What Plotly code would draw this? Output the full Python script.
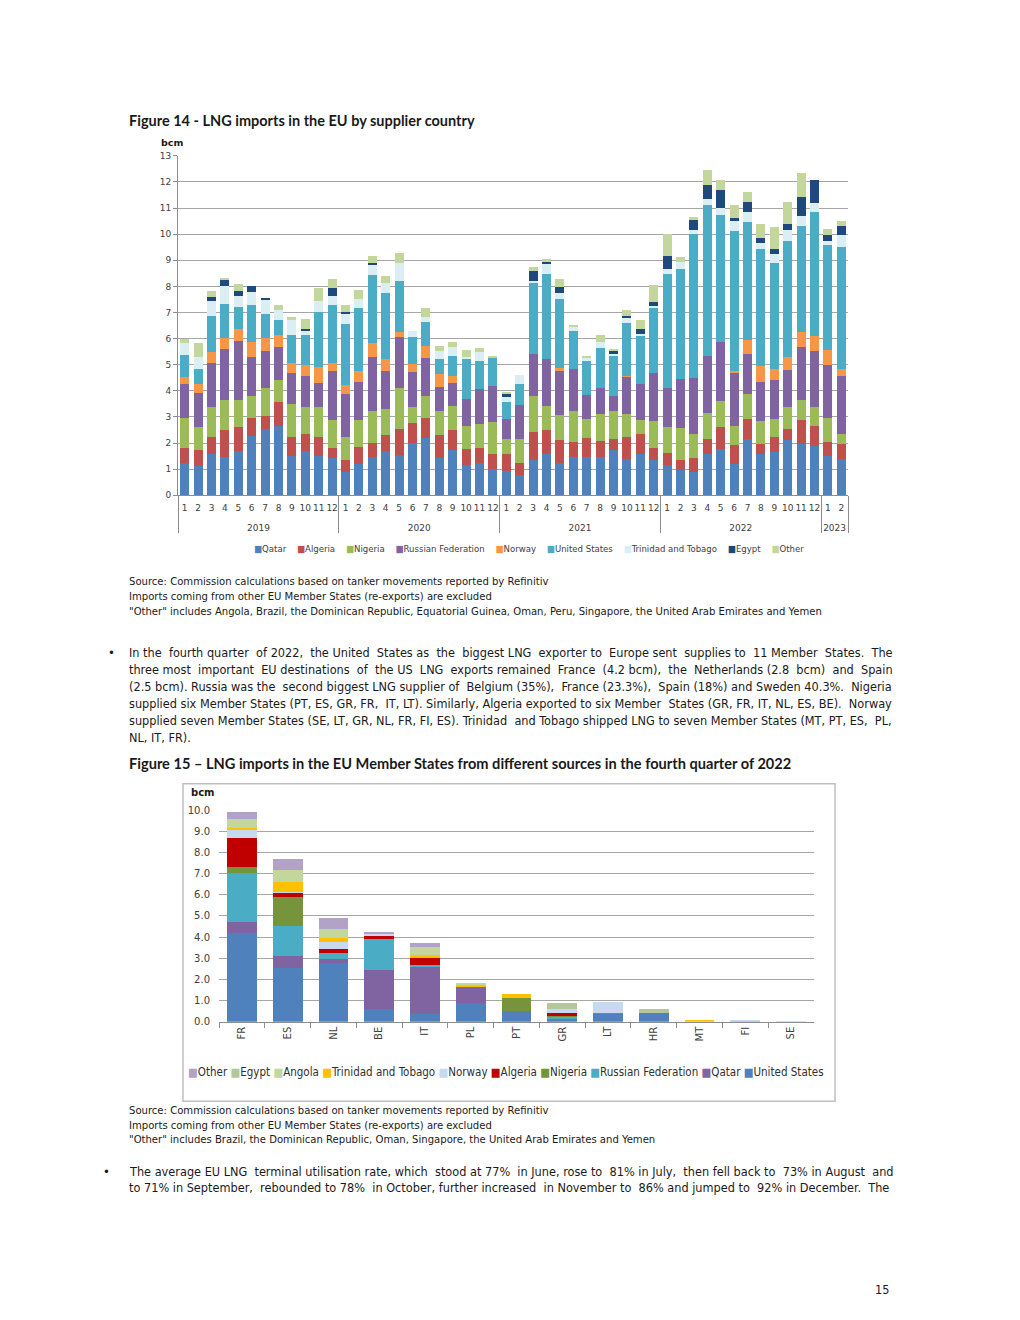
import plotly.graph_objects as go

W, H = 1020, 1320

# ---------------- Figure 14 data (bcm, monthly) ----------------
years = (["2019"] * 12 + ["2020"] * 12 + ["2021"] * 12 + ["2022"] * 12 + ["2023"] * 2)
months = (["1", "2", "3", "4", "5", "6", "7", "8", "9", "10", "11", "12"] * 4 + ["1", "2"])

qatar = [1.25, 1.12, 1.60, 1.45, 1.68, 2.27, 2.53, 2.67, 1.50, 1.68, 1.52, 1.42,
         0.90, 1.21, 1.47, 1.69, 1.56, 2.00, 2.20, 1.43, 1.73, 1.15, 1.25, 1.02,
         0.93, 0.77, 1.34, 1.57, 1.24, 1.45, 1.45, 1.45, 1.73, 1.38, 1.60, 1.34,
         1.15, 0.96, 0.90, 1.59, 1.78, 1.21, 2.17, 1.57, 1.66, 2.11, 1.96, 1.88,
         1.50, 1.38]
algeria = [0.57, 0.63, 0.65, 1.05, 0.92, 0.68, 0.50, 0.90, 0.75, 0.67, 0.71, 0.41,
           0.44, 0.64, 0.53, 0.61, 0.96, 0.77, 0.77, 0.87, 0.76, 0.64, 0.58, 0.58,
           0.64, 0.48, 1.09, 0.92, 0.87, 0.60, 0.76, 0.63, 0.42, 0.86, 0.74, 0.48,
           0.47, 0.38, 0.51, 0.55, 0.82, 0.73, 0.75, 0.39, 0.56, 0.42, 0.92, 0.79,
           0.55, 0.58]
nigeria = [1.15, 0.85, 1.13, 1.13, 1.05, 0.87, 1.07, 0.83, 1.23, 1.03, 1.14, 1.07,
           0.90, 1.03, 1.22, 1.00, 1.60, 0.62, 0.85, 0.92, 0.92, 0.87, 0.89, 1.21,
           0.57, 0.89, 1.38, 0.92, 0.96, 1.19, 0.72, 1.04, 1.07, 0.88, 0.54, 1.02,
           1.00, 1.24, 0.92, 1.01, 1.01, 0.73, 0.95, 0.88, 0.72, 0.86, 0.76, 0.72,
           0.90, 0.38]
russia = [1.28, 1.30, 1.67, 1.97, 2.27, 1.46, 1.42, 1.28, 1.22, 1.19, 0.93, 1.85,
          1.62, 1.44, 2.06, 1.46, 1.95, 1.32, 1.44, 0.92, 0.89, 1.04, 1.35, 1.37,
          0.79, 1.31, 1.60, 1.82, 1.69, 1.61, 0.91, 1.00, 0.59, 1.42, 1.38, 1.83,
          1.50, 1.88, 2.15, 2.18, 2.27, 2.01, 1.54, 1.48, 1.48, 1.42, 2.05, 2.13,
          2.05, 2.24]
norway = [0.29, 0.35, 0.45, 0.42, 0.43, 0.60, 0.51, 0.45, 0.35, 0.43, 0.62, 0.30,
          0.36, 0.45, 0.54, 0.44, 0.20, 0.32, 0.46, 0.51, 0.28, 0, 0, 0,
          0, 0, 0, 0, 0.10, 0, 0, 0, 0, 0.03, 0, 0,
          0, 0, 0, 0, 0, 0.08, 0.54, 0.63, 0.41, 0.48, 0.55, 0.59,
          0.55, 0.24]
united_states = [0.83, 0.60, 1.37, 1.31, 0.87, 1.39, 0.90, 0.57, 1.08, 1.12, 2.08, 2.25,
                 2.33, 2.42, 2.62, 2.56, 1.94, 1.02, 0.90, 0.58, 0.75, 1.50, 1.07, 1.09,
                 0.65, 0.83, 2.75, 3.25, 2.67, 1.43, 1.30, 1.53, 1.52, 2.04, 1.85, 2.53,
                 4.36, 4.20, 5.52, 5.77, 4.86, 5.37, 4.50, 4.49, 4.08, 4.45, 4.07, 4.72,
                 4.04, 4.67]
trinidad = [0.45, 0.43, 0.56, 0.70, 0.41, 0.53, 0.55, 0.40, 0.62, 0.18, 0.45, 0.35,
            0.42, 0.33, 0.38, 0.36, 0.68, 0.24, 0.20, 0.31, 0.36, 0.11, 0.36, 0,
            0.19, 0.32, 0.05, 0.37, 0.23, 0.18, 0.10, 0.23, 0.08, 0.17, 0.05, 0.06,
            0.18, 0.28, 0.17, 0.24, 0.26, 0.38, 0.38, 0.23, 0.32, 0.40, 0.39, 0.36,
            0.15, 0.48]
egypt = [0, 0, 0.17, 0.22, 0.20, 0.23, 0.09, 0, 0, 0.08, 0, 0.27,
         0.06, 0, 0.09, 0, 0, 0, 0, 0, 0, 0, 0, 0,
         0.13, 0, 0.36, 0.09, 0.21, 0, 0, 0, 0.11, 0.10, 0.20, 0.16,
         0.51, 0, 0.38, 0.55, 0.70, 0.12, 0.40, 0.19, 0.19, 0.24, 0.71, 0.89,
         0.23, 0.35]
other = [0.18, 0.54, 0.23, 0.08, 0.27, 0, 0, 0.20, 0.07, 0.37, 0.48, 0.36,
         0.26, 0.36, 0.27, 0.29, 0.37, 0, 0.37, 0.18, 0.19, 0.27, 0.13, 0.06,
         0.06, 0, 0.19, 0.10, 0.30, 0.06, 0.09, 0.25, 0.08, 0.22, 0.35, 0.64,
         0.83, 0.20, 0.09, 0.55, 0.38, 0.47, 0.38, 0.52, 0.84, 0.85, 0.93, 0,
         0.22, 0.19]

series14 = [
    ("Qatar", qatar, "#4f81bd"),
    ("Algeria", algeria, "#c0504d"),
    ("Nigeria", nigeria, "#9bbb59"),
    ("Russian Federation", russia, "#8064a2"),
    ("Norway", norway, "#f79646"),
    ("United States", united_states, "#4bacc6"),
    ("Trinidad and Tobago", trinidad, "#dbeef4"),
    ("Egypt", egypt, "#1f497d"),
    ("Other", other, "#c3d69b"),
]

# ---------------- Figure 15 data (bcm, Q4 2022) ----------------
countries = ["FR", "ES", "NL", "BE", "IT", "PL", "PT", "GR", "LT", "HR", "MT", "FI", "SE"]
us15 = [4.21, 2.52, 2.79, 0.58, 0.35, 0.90, 0.50, 0.15, 0.38, 0.43, 0, 0, 0]
qatar15 = [0.49, 0.59, 0.16, 1.85, 2.28, 0.74, 0, 0, 0, 0, 0, 0, 0]
russia15 = [2.32, 1.42, 0.28, 1.50, 0.05, 0, 0, 0.10, 0, 0, 0, 0.02, 0]
nigeria15 = [0.27, 1.34, 0, 0, 0.01, 0, 0.64, 0.01, 0.01, 0, 0, 0, 0]
algeria15 = [1.37, 0.23, 0.22, 0.12, 0.30, 0, 0, 0.13, 0, 0, 0, 0, 0]
norway15 = [0.39, 0.03, 0.32, 0.08, 0, 0, 0, 0.19, 0.52, 0, 0, 0.02, 0.01]
trinidad15 = [0.11, 0.45, 0.20, 0, 0.15, 0.13, 0.18, 0, 0, 0, 0.08, 0, 0]
angola15 = [0.44, 0.58, 0.40, 0, 0.37, 0.08, 0, 0, 0, 0, 0, 0, 0]
egypt15 = [0, 0, 0, 0, 0, 0, 0, 0.32, 0, 0.19, 0, 0, 0]
other15 = [0.30, 0.55, 0.52, 0.13, 0.19, 0, 0, 0, 0, 0, 0, 0, 0]

series15 = [
    ("United States", us15, "#4f81bd"),
    ("Qatar", qatar15, "#8064a2"),
    ("Russian Federation", russia15, "#4bacc6"),
    ("Nigeria", nigeria15, "#77933c"),
    ("Algeria", algeria15, "#c00000"),
    ("Norway", norway15, "#c6d9f1"),
    ("Trinidad and Tobago", trinidad15, "#ffc000"),
    ("Angola", angola15, "#c3d69b"),
    ("Egypt", egypt15, "#b4c79a"),
    ("Other", other15, "#b3a2c7"),
]

# year row is pushed down one line so it sits below the month row like the original
year_labels = ["<br>" + y for y in years]

fig = go.Figure()
for name, vals, col in series14:
    fig.add_trace(go.Bar(x=[year_labels, months], y=vals, name=name, marker_color=col,
                         marker_line_width=0, width=0.66, xaxis="x", yaxis="y",
                         showlegend=False))
for name, vals, col in series15:
    fig.add_trace(go.Bar(x=countries, y=vals, name=name, marker_color=col,
                         marker_line_width=0, width=0.65, xaxis="x2", yaxis="y2",
                         showlegend=False))


# page-pixel -> paper coordinates (small correction for the page offset of the viewer)
def px(x):
    return (x - 8) / W


def py(y):
    return 1 - ((y - 13.4) / 0.991) / H


AX = "#8c8c8c"
GRID = "#a6a6a6"
TICKFONT = dict(family="DejaVu Sans", size=9, color="#404040")

fig.update_layout(
    width=W, height=H, margin=dict(l=0, r=0, t=0, b=0),
    paper_bgcolor="white", plot_bgcolor="white",
    barmode="stack", showlegend=False,
    xaxis=dict(domain=[px(178), px(848)], anchor="y", type="multicategory",
               showline=True, linecolor=AX, linewidth=1, showdividers=True,
               dividercolor=AX, dividerwidth=1, ticks="", showgrid=False,
               tickangle=0, ticklabelstandoff=4, tickfont=TICKFONT),
    yaxis=dict(domain=[py(495), py(156)], anchor="x", range=[0, 13], dtick=1,
               showgrid=True, gridcolor=GRID, gridwidth=1, showline=True,
               linecolor=AX, ticks="outside", ticklen=4, tickcolor=AX,
               tickfont=TICKFONT, zeroline=False),
    xaxis2=dict(domain=[px(219), px(814)], anchor="y2", type="category",
                showline=True, linecolor=AX, ticks="outside", tickson="boundaries",
                ticklen=5, tickcolor=AX, tickangle=-90, showgrid=False,
                tickfont=dict(family="DejaVu Sans", size=10, color="#404040")),
    yaxis2=dict(domain=[py(1020.7), py(809.3)], anchor="x2", range=[0, 10], dtick=1,
                tickformat=".1f", showgrid=True, gridcolor=GRID, gridwidth=1,
                showline=False, ticks="outside", ticklen=6,
                tickcolor="rgba(0,0,0,0)", zeroline=False,
                tickfont=dict(family="DejaVu Sans", size=10, color="#404040")),
)

BODY = "DejaVu Sans Condensed"
TITLE = "Lato"
anns = []


def text(x, y, s, size=12, family=BODY, bold=False, color="#1a1a1a", anchor="left"):
    if bold:
        s = "<b>" + s + "</b>"
    anns.append(dict(x=px(x), y=py(y), xref="paper", yref="paper", text=s,
                     showarrow=False, xanchor=anchor, yanchor="middle",
                     font=dict(family=family, size=size, color=color)))


def justify(line, n):
    # spread n extra non-breaking spaces over the word gaps (approximate full justification)
    words = line.split(" ")
    g = len(words) - 1
    if g <= 0 or n <= 0:
        return line
    out = words[0]
    for i in range(g):
        k = (i + 1) * n // g - i * n // g
        out += " " + "&nbsp;" * k + words[i + 1]
    return out


text(127, 121, "Figure 14 - LNG imports in the EU by supplier country", size=14.5, family=TITLE, bold=True)
text(159, 143, "bcm", size=9.5, family="DejaVu Sans", bold=True)

# legend for figure 14
leg14 = "&nbsp;&nbsp;&nbsp;&nbsp;".join(
    f"<span style='color:{c}'>■</span>{n}" for n, _, c in series14)
text(529, 548, leg14, size=9.5, family=BODY, color="#404040", anchor="center")

SRC = 11.2
text(127, 581, "Source: Commission calculations based on tanker movements reported by Refinitiv", size=SRC)
text(127, 596, "Imports coming from other EU Member States (re-exports) are excluded", size=SRC)
text(127, 611, "\"Other\" includes Angola, Brazil, the Dominican Republic, Equatorial Guinea, Oman, Peru, Singapore, the United Arab Emirates and Yemen", size=SRC)

para1 = [
    "In the fourth quarter of 2022, the United States as the biggest LNG exporter to Europe sent supplies to 11 Member States. The",
    "three most important EU destinations of the US LNG exports remained France (4.2 bcm), the Netherlands (2.8 bcm) and Spain",
    "(2.5 bcm). Russia was the second biggest LNG supplier of Belgium (35%),  France (23.3%), Spain (18%) and Sweden 40.3%. Nigeria",
    "supplied six Member States (PT, ES, GR, FR, IT, LT). Similarly, Algeria exported to six Member States (GR, FR, IT, NL, ES, BE). Norway",
    "supplied seven Member States (SE, LT, GR, NL, FR, FI, ES). Trinidad and Tobago shipped LNG to seven Member States (MT, PT, ES, PL,",
    "NL, IT, FR).",
]
pad1 = [12, 13, 4, 3, 2, 0]
BS = 12.6
text(106, 652, "•", size=13)
for i, line in enumerate(para1):
    text(127, 652 + 17 * i, justify(line, pad1[i]), size=BS)

text(127, 763, "Figure 15 – LNG imports in the EU Member States from different sources in the fourth quarter of 2022",
     size=14.6, family=TITLE, bold=True)
text(189, 792, "bcm", size=10, family="DejaVu Sans", bold=True)

leg15 = "&nbsp;".join(
    f"<span style='color:{c}'>■</span>{n}" for n, _, c in reversed(series15))
text(506, 1071, leg15, size=11.5, family=BODY, color="#303030", anchor="center")

text(127, 1109, "Source: Commission calculations based on tanker movements reported by Refinitiv", size=SRC)
text(127, 1124, "Imports coming from other EU Member States (re-exports) are excluded", size=SRC)
text(127, 1138, "\"Other\" includes Brazil, the Dominican Republic, Oman, Singapore, the United Arab Emirates and Yemen", size=SRC)

para2 = [
    "The average EU LNG terminal utilisation rate, which stood at 77% in June, rose to 81% in July, then fell back to 73% in August and",
    "to 71% in September, rebounded to 78% in October, further increased in November to 86% and jumped to 92% in December. The",
]
pad2 = [7, 6]
text(101, 1170, "•", size=13)
for i, line in enumerate(para2):
    text(127, 1170 + 16 * i, justify(line, pad2[i]), size=BS)

text(891, 1288, "15", size=12.6, anchor="right")

fig.update_layout(annotations=anns)

# border around figure 15
fig.add_shape(type="rect", xref="paper", yref="paper",
              x0=px(183), x1=px(835), y0=py(1100), y1=py(783),
              line=dict(color="#bfbfbf", width=1.5), fillcolor="rgba(0,0,0,0)")

fig.write_html("out.html")
